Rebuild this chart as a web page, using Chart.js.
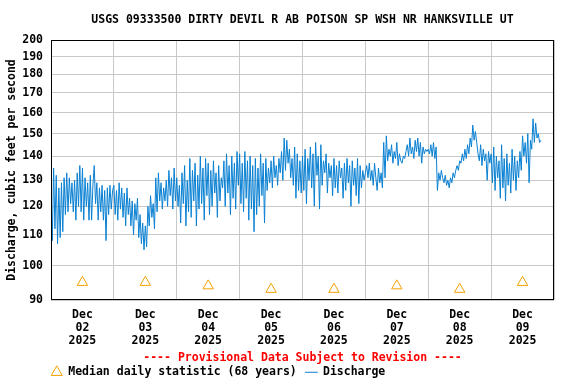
<!DOCTYPE html>
<html>
<head>
<meta charset="utf-8">
<title>USGS 09333500 Dirty Devil R</title>
<script src="https://cdn.jsdelivr.net/npm/chart.js@4.4.1/dist/chart.umd.min.js"></script>
<style>
  html, body { margin: 0; padding: 0; background: #fff; }
</style>
</head>
<body>
<canvas id="chart" width="576" height="384"></canvas>
<script>
// discharge, cfs, 30-minute readings starting Dec 02 00:00
const flowDec02 = [128,108,135,112,132,107,127,109,129,111,131,117,133,118,131,121,129,118,130,115,133,120,136,118,
                   135,115,131,120,129,115,132,115,128,136,121,129,115,127,118,128,115,126,108,127,117,128,119,126];
const flowDec03 = [128,117,126,115,129,119,127,116,125,113,127,117,123,113,122,110,121,115,123,109,117,107,114,105,
                   113,106,120,113,124,116,121,112,131,118,133,122,129,119,127,122,130,120,134,124,131,119,135,122];
const flowDec04 = [131,120,128,114,133,121,136,113,130,118,139,116,134,122,137,113,132,119,140,121,135,115,139,124,
                   137,117,134,120,138,125,133,116,136,122,131,127,138,120,141,125,136,117,140,123,137,119,142,128];
const flowDec05 = [141,121,137,118,142,123,138,115,140,119,136,111,139,117,135,120,141,124,137,114,139,126,135,129,
                   138,127,140,131,136,128,139,133,142,130,148,134,147,137,143,131,139,128,144,123,141,126,138,125];
const flowDec06 = [140,126,143,121,139,130,144,127,141,120,146,132,140,119,145,128,138,133,141,125,137,131,136,124,
                   139,127,136,125,138,131,135,123,137,126,139,129,136,120,138,128,135,124,139,121,136,127,134,130];
const flowDec07 = [133,136,131,137,130,134,128,137,131,126,135,129,133,127,146,131,149,138,143,140,145,137,142,139,
                   146,136,141,138,137,140,139,142,145,140,148,141,144,139,147,142,148,140,146,137,144,141,143,142];
const flowDec08 = [143,141,145,140,146,139,144,126,133,130,134,131,129,132,128,130,127,131,129,133,131,134,136,134,
                   138,137,141,138,143,139,145,141,148,144,154,147,151,146,141,138,145,136,143,138,141,130,142,137];
const flowDec09 = [141,129,144,126,140,131,138,123,145,127,139,122,141,128,137,125,143,130,140,126,138,131,142,134,
                   149,140,146,137,150,129,147,143,157,146,155,148,150,146,147];

// median daily statistic (68 years), one per day
const medianValues = [95, 95, 94, 93, 93, 94, 93, 95];

const monthLabel = 'Dec';
const yearLabel = '2025';
const dayLabels = ['02', '03', '04', '05', '06', '07', '08', '09'];
const yTickValues = [90, 100, 110, 120, 130, 140, 150, 160, 170, 180, 190, 200];

const flow = [].concat(flowDec02, flowDec03, flowDec04, flowDec05, flowDec06, flowDec07, flowDec08, flowDec09);
const MONO = "'DejaVu Sans Mono', 'Liberation Mono', monospace";
const PLOT_BOTTOM = 300;
const font = { family: MONO, size: 11.5, weight: 'bold' };

// hours since Dec 02 00:00
const flowPoints = flow.map((v, i) => ({ x: i * 0.5, y: v }));
const medianPoints = medianValues.map((v, i) => ({ x: 12 + 24 * i, y: v }));
const xTickValues = [];
for (let h = 0; h <= 24 * dayLabels.length; h += 12) xTickValues.push(h);

const framePlugin = {
  id: 'frame',
  afterLayout(chart) {
    const lg = chart.legend;
    lg.left = chart.chartArea.left - lg.options.labels.padding;
    lg.top += 4;
  },
  afterDraw(chart) {
    const a = chart.chartArea, ctx = chart.ctx;
    ctx.save();
    ctx.strokeStyle = '#000';
    ctx.lineWidth = 1;
    ctx.strokeRect(Math.round(a.left) + 0.5, Math.round(a.top) + 0.5,
      Math.round(a.right - a.left) - 1, Math.round(a.bottom - a.top) - 1);
    ctx.restore();
  }
};

new Chart(document.getElementById('chart'), {
  type: 'line',
  data: {
    datasets: [
      {
        label: 'Median daily statistic (68 years)',
        data: medianPoints,
        showLine: false,
        pointStyle: 'triangle',
        pointRadius: 6,
        pointBorderWidth: 1,
        borderWidth: 1,
        borderColor: '#f5a000',
        backgroundColor: 'rgba(255,255,255,0)',
        pointBackgroundColor: 'rgba(255,255,255,0)'
      },
      {
        label: 'Discharge',
        data: flowPoints,
        borderColor: '#0a80d2',
        backgroundColor: '#0a80d2',
        borderWidth: 1,
        pointRadius: 0,
        pointStyle: 'line',
        tension: 0
      }
    ]
  },
  options: {
    responsive: false,
    animation: false,
    events: [],
    layout: { padding: { right: 22 } },
    scales: {
      x: {
        type: 'linear',
        min: 0,
        max: 24 * dayLabels.length,
        afterBuildTicks: s => { s.ticks = xTickValues.map(v => ({ value: v })); },
        afterFit: s => { s.height = s.chart.height - PLOT_BOTTOM - s.chart.legend.height; },
        ticks: {
          autoSkip: false,
          maxRotation: 0,
          padding: 9,
          color: '#000',
          font: { family: MONO, size: 11.5, weight: 'bold', lineHeight: 1.13 },
          callback: v => {
            const d = (v - 12) / 24;
            return (Number.isInteger(d) && d >= 0 && d < dayLabels.length) ? [monthLabel, dayLabels[d], yearLabel] : '';
          }
        },
        grid: {
          drawTicks: false,
          color: c => (c.tick && c.tick.value % 24 === 0) ? '#c8c8c8' : 'rgba(0,0,0,0)'
        },
        border: { display: false },
        title: {
          display: true,
          text: '---- Provisional Data Subject to Revision ----',
          color: '#ff0000',
          font: font,
          padding: { top: 0, bottom: -11 }
        }
      },
      y: {
        type: 'logarithmic',
        min: 90,
        max: 200,
        afterBuildTicks: s => { s.ticks = yTickValues.map(v => ({ value: v })); },
        afterFit: s => { s.width = 51; },
        ticks: {
          autoSkip: false,
          padding: 8,
          color: '#000',
          font: font,
          callback: v => String(v)
        },
        grid: { drawTicks: false, color: '#c8c8c8' },
        border: { display: false },
        title: {
          display: true,
          text: 'Discharge, cubic feet per second',
          color: '#000',
          font: font,
          padding: { top: 5, bottom: 0 }
        }
      }
    },
    plugins: {
      title: {
        display: true,
        fullSize: false,
        text: 'USGS 09333500 DIRTY DEVIL R AB POISON SP WSH NR HANKSVILLE UT',
        color: '#000',
        font: { family: MONO, size: 11.5, weight: 'bold', lineHeight: 1.2 },
        padding: { top: 13, bottom: 13.2 }
      },
      legend: {
        position: 'bottom',
        align: 'start',
        labels: {
          usePointStyle: true,
          boxHeight: 9,
          padding: 9,
          color: '#000',
          font: font
        }
      },
      tooltip: { enabled: false }
    }
  },
  plugins: [framePlugin]
});
</script>
</body>
</html>
